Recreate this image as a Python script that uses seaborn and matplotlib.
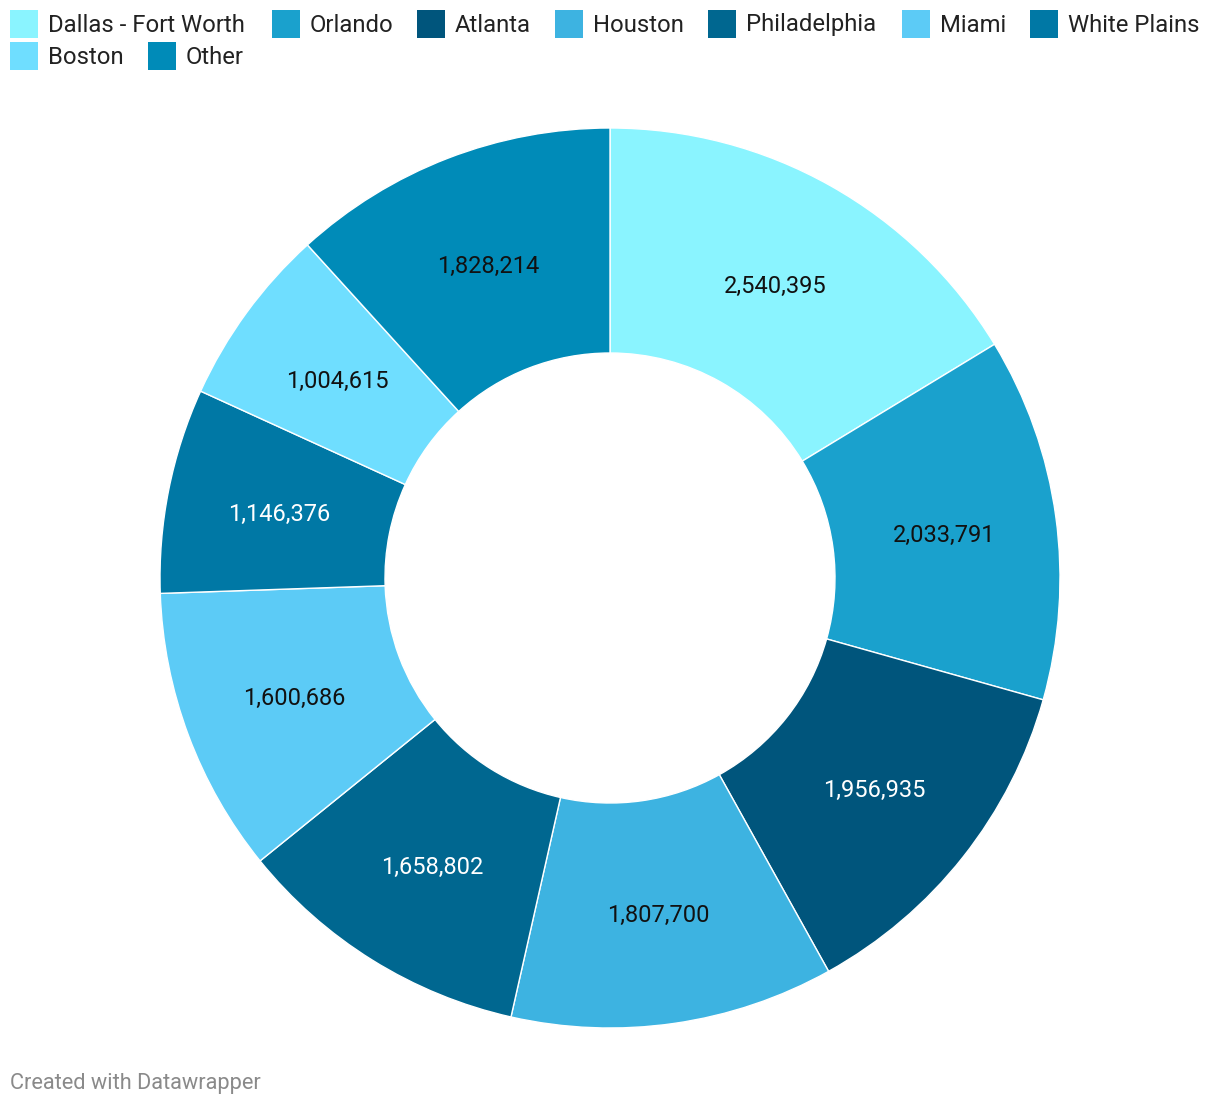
import matplotlib
matplotlib.use("Agg")
import matplotlib.pyplot as plt
import seaborn as sns
import numpy as np
from matplotlib.patches import Rectangle

categories = ["Dallas - Fort Worth", "Orlando", "Atlanta", "Houston", "Philadelphia",
              "Miami", "White Plains", "Boston", "Other"]
values = [2540395, 2033791, 1956935, 1807700, 1658802, 1600686, 1146376, 1004615, 1828214]
colors = ["#8af4ff", "#1aa1cd", "#00557c", "#3db3e1", "#006790",
          "#5ccbf6", "#0078a5", "#6fdeff", "#008bb8"]
label_colors = ["#111111", "#111111", "#ffffff", "#111111", "#ffffff",
                "#111111", "#ffffff", "#111111", "#111111"]

sns.set_theme(style="white")
plt.rcParams['font.family'] = ['Roboto', 'DejaVu Sans']

W, H = 1220, 1106
fig = plt.figure(figsize=(W / 100, H / 100), dpi=100)
fig.patch.set_facecolor("white")
ax = fig.add_axes([0, 0, 1, 1])

cx, cy, R = 610, H - 578, 450
wedges, _ = ax.pie(values, colors=colors, startangle=90, counterclock=False,
                   center=(cx, cy), radius=R, frame=True,
                   wedgeprops=dict(width=R * 0.5, edgecolor="white", linewidth=1))
ax.set_xlim(0, W)
ax.set_ylim(0, H)
ax.axis("off")

for w, v, tc in zip(wedges, values, label_colors):
    ang = np.deg2rad((w.theta1 + w.theta2) / 2)
    r = R * 0.75
    ax.text(cx + r * np.cos(ang), cy + r * np.sin(ang) - 3, f"{v:,}",
            ha="center", va="center", fontsize=17, color=tc)

# legend
legend_pos = [(10, 24), (272, 24), (417, 24), (555, 24), (708, 24), (902, 24), (1030, 24),
              (10, 56), (148, 56)]
for (x, y), name, c in zip(legend_pos, categories, colors):
    fig.patches.append(Rectangle((x / W, 1 - (y + 14) / H), 28 / W, 28 / H,
                                 transform=fig.transFigure, facecolor=c, edgecolor="none"))
    fig.text((x + 38) / W, 1 - (y + 1) / H, name, ha="left", va="center",
             fontsize=17.2, color="#222222")

fig.text(10 / W, 1 - 1083 / H, "Created with Datawrapper", ha="left", va="center",
         fontsize=15.7, color="#8a8a8a")

fig.savefig("out.png", dpi=100, facecolor="white")
